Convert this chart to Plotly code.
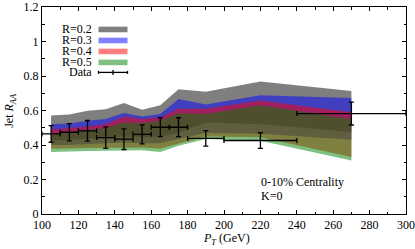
import plotly.graph_objects as go

# ---------------- data ----------------
pt = [105, 115, 125, 135, 145, 155, 165, 175, 190, 220, 270]

r02_hi = [0.571, 0.577, 0.598, 0.607, 0.643, 0.604, 0.630, 0.723, 0.708, 0.768, 0.713]
r02_lo = [0.425, 0.430, 0.435, 0.440, 0.450, 0.445, 0.450, 0.470, 0.530, 0.520, 0.475]
r03_hi = [0.521, 0.525, 0.540, 0.550, 0.586, 0.565, 0.580, 0.666, 0.635, 0.688, 0.672]
r03_lo = [0.400, 0.400, 0.405, 0.410, 0.415, 0.410, 0.410, 0.435, 0.470, 0.465, 0.430]
r04_hi = [0.490, 0.498, 0.507, 0.521, 0.565, 0.550, 0.561, 0.610, 0.610, 0.658, 0.590]
r04_lo = [0.378, 0.380, 0.382, 0.385, 0.385, 0.385, 0.380, 0.410, 0.450, 0.445, 0.330]
r05_hi = [0.465, 0.475, 0.484, 0.498, 0.531, 0.527, 0.542, 0.584, 0.580, 0.630, 0.550]
r05_lo = [0.360, 0.362, 0.365, 0.366, 0.370, 0.370, 0.360, 0.395, 0.435, 0.425, 0.310]

band_names = ["R=0.2", "R=0.3", "R=0.4", "R=0.5"]
band_colors = ["rgba(0,0,0,0.5)", "rgba(0,0,255,0.5)", "rgba(255,0,0,0.5)", "rgba(0,128,0,0.5)"]

data_pt = [105, 115, 125, 135, 145, 155, 165, 175, 190, 220, 270]
data_raa = [0.464, 0.474, 0.482, 0.443, 0.434, 0.462, 0.503, 0.503, 0.438, 0.426, 0.582]
data_yerr = [0.048, 0.050, 0.060, 0.062, 0.060, 0.055, 0.055, 0.055, 0.045, 0.045, 0.066]
data_xerr = [5, 5, 5, 5, 5, 5, 5, 5, 10, 20, 30]

x_ticks = [100, 120, 140, 160, 180, 200, 220, 240, 260, 280, 300]
y_ticks = [0, 0.2, 0.4, 0.6, 0.8, 1.0, 1.2]

FONT = "Liberation Serif"
FS = 12

fig = go.Figure()

bands = [(r02_hi, r02_lo), (r03_hi, r03_lo), (r04_hi, r04_lo), (r05_hi, r05_lo)]
for (hi, lo), name, col in zip(bands, band_names, band_colors):
    fig.add_trace(go.Scatter(
        x=pt + pt[::-1], y=hi + lo[::-1], fill="toself", fillcolor=col,
        line=dict(width=0), mode="lines", name=name, showlegend=False,
        hoverinfo="skip"))

fig.add_trace(go.Scatter(
    x=data_pt, y=data_raa, mode="markers", name="Data", showlegend=False,
    marker=dict(size=1, color="black"),
    error_y=dict(type="data", array=data_yerr, color="black", thickness=1.3, width=2.5),
    error_x=dict(type="data", array=data_xerr, color="black", thickness=1.3, width=2.5),
))

# ---------- manual legend (paper coords) ----------
def px2paper_x(px):
    return (px - 42) / 364.0

def py2paper_y(py):
    return (214.3 - py) / 207.3

rows = [29.5, 40.5, 51.5, 62.5]
for name, col, ry in zip(band_names, band_colors, rows):
    fig.add_shape(type="rect", xref="paper", yref="paper",
                  x0=px2paper_x(98.5), x1=px2paper_x(127.5),
                  y0=py2paper_y(ry + 2.8), y1=py2paper_y(ry - 2.8),
                  fillcolor=col, line=dict(width=0))
    fig.add_annotation(xref="paper", yref="paper", x=px2paper_x(93), y=py2paper_y(ry),
                       text=name, showarrow=False, xanchor="right", yanchor="middle",
                       height=10, borderpad=0,
                       font=dict(family=FONT, size=FS, color="black"))
dy = 72.5
fig.add_annotation(xref="paper", yref="paper", x=px2paper_x(93), y=py2paper_y(dy),
                   text="Data", showarrow=False, xanchor="right", yanchor="middle",
                   height=10, borderpad=0,
                   font=dict(family=FONT, size=FS, color="black"))
fig.add_shape(type="line", xref="paper", yref="paper",
              x0=px2paper_x(98.5), x1=px2paper_x(127.5), y0=py2paper_y(dy), y1=py2paper_y(dy),
              line=dict(color="black", width=1.3))
for xx, h in [(98.5, 1.5), (127.5, 1.5), (113, 2.5)]:
    fig.add_shape(type="line", xref="paper", yref="paper",
                  x0=px2paper_x(xx), x1=px2paper_x(xx),
                  y0=py2paper_y(dy - h), y1=py2paper_y(dy + h),
                  line=dict(color="black", width=1.3))

fig.add_annotation(xref="paper", yref="paper", x=px2paper_x(259), y=py2paper_y(182.5),
                   text="0-10% Centrality", showarrow=False, xanchor="left", yanchor="middle",
                   font=dict(family=FONT, size=FS, color="black"))
fig.add_annotation(xref="paper", yref="paper", x=px2paper_x(259), y=py2paper_y(196),
                   text="K=0", showarrow=False, xanchor="left", yanchor="middle",
                   font=dict(family=FONT, size=FS, color="black"))

# axis titles as annotations for exact placement
fig.add_annotation(xref="paper", yref="paper", x=px2paper_x(10), y=py2paper_y(111),
                   text="Jet <i>R<sub>AA</sub></i>", showarrow=False, textangle=-90,
                   xanchor="center", yanchor="middle",
                   font=dict(family=FONT, size=FS, color="black"))
fig.add_annotation(xref="paper", yref="paper", x=px2paper_x(226), y=py2paper_y(239),
                   text="<i>P<sub>T</sub></i> (GeV)", showarrow=False,
                   xanchor="center", yanchor="middle",
                   font=dict(family=FONT, size=FS, color="black"))

axis_common = dict(
    showgrid=False, zeroline=False, showline=True, linecolor="black", linewidth=1,
    mirror="allticks", ticks="inside", ticklen=4, tickcolor="black", tickwidth=1,
    tickfont=dict(family=FONT, size=FS, color="black"),
)

fig.update_xaxes(range=[100, 300], tickvals=x_ticks,
                 minor=dict(ticks="inside", ticklen=2.5, dtick=10, tick0=100, tickcolor="black"),
                 **axis_common)
fig.update_yaxes(range=[0, 1.2], tickvals=y_ticks, ticktext=["0", "0.2", "0.4", "0.6", "0.8", "1", "1.2"],
                 minor=dict(ticks="inside", ticklen=2.5, dtick=0.1, tick0=0, tickcolor="black"),
                 **axis_common)

fig.update_layout(
    width=415, height=249,
    margin=dict(l=42, r=9, t=7, b=35, autoexpand=False),
    plot_bgcolor="white", paper_bgcolor="white",
    showlegend=False,
)

fig.write_html("out.html", config={"displayModeBar": False},
               post_script="document.body.style.margin='0';document.body.style.padding='0';")
